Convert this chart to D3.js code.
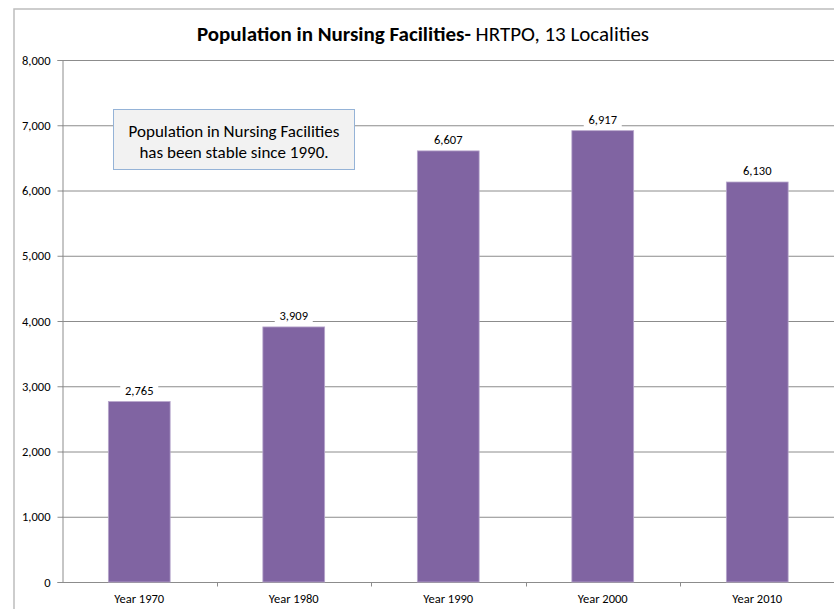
<!DOCTYPE html>
<html><head><meta charset="utf-8">
<script src="https://cdn.jsdelivr.net/npm/d3@7"></script>
<style>body{margin:0;background:#fff}svg{display:block}</style>
</head><body>
<script>
const categories = ["Year 1970","Year 1980","Year 1990","Year 2000","Year 2010"];
const values = [2765, 3909, 6607, 6917, 6130];
const yTicks = [0,1000,2000,3000,4000,5000,6000,7000,8000];
const titleBold = "Population in Nursing Facilities-";
const titleRest = " HRTPO, 13 Localities";
const noteLines = ["Population in Nursing Facilities","has been stable since 1990."];

(function(){
const W=834,H=609;
const svg=d3.select("body").append("svg").attr("width",W).attr("height",H);
const font="Carlito, 'Open Sans', 'Noto Sans', sans-serif";

// outer frame (cropped at right/bottom)
svg.append("rect").attr("x",14).attr("y",9).attr("width",W).attr("height",H)
  .attr("fill","#fff").attr("stroke","#bdbdbd").attr("stroke-width",1.5);

const pLeft=62, pRight=834.5, pTop=60, pBottom=582;
const x=d3.scaleBand().domain(categories).range([pLeft,pRight]).paddingInner(0.6).paddingOuter(0.3);
const y=d3.scaleLinear().domain([0,8000]).range([pBottom,pTop]);

// gridlines
svg.append("g").selectAll("line").data(yTicks.filter(d=>d>0)).join("line")
  .attr("x1",pLeft).attr("x2",W).attr("y1",d=>y(d)+0.5).attr("y2",d=>y(d)+0.5)
  .attr("stroke","#8c8c8c").attr("stroke-width",1);

// y axis
const ya=svg.append("g").attr("transform",`translate(${pLeft+0.5},0)`)
  .call(d3.axisLeft(y).tickValues(yTicks).tickSize(5).tickPadding(7).tickFormat(d3.format(",")));
ya.select(".domain").attr("stroke","#8c8c8c");
ya.selectAll(".tick line").attr("stroke","#8c8c8c");
ya.selectAll("text").attr("font-family",font).attr("font-size",12.5).attr("fill","#000");

// x axis
const xBand=d3.scaleLinear().domain([0,categories.length]).range([pLeft,pRight]);
const xa=svg.append("g").attr("transform",`translate(0,${pBottom+0.5})`);
xa.append("line").attr("x1",pLeft).attr("x2",W).attr("stroke","#8c8c8c");
xa.selectAll("line.t").data(d3.range(1,categories.length+1)).join("line").attr("class","t")
  .attr("x1",d=>Math.round(xBand(d))+0.5).attr("x2",d=>Math.round(xBand(d))+0.5).attr("y1",0).attr("y2",4)
  .attr("stroke","#8c8c8c");
xa.selectAll("text").data(categories).join("text")
  .attr("x",d=>x(d)+x.bandwidth()/2).attr("y",20).attr("text-anchor","middle")
  .attr("font-family",font).attr("font-size",12.5).attr("fill","#000").text(d=>d);

// bars
svg.append("g").selectAll("rect").data(values).join("rect")
  .attr("x",(d,i)=>x(categories[i])).attr("width",x.bandwidth())
  .attr("y",d=>y(d)).attr("height",d=>pBottom-y(d))
  .attr("fill","#8064a2").attr("stroke","#b7a6cc").attr("stroke-width",0.8);

// value labels with white background
const lg=svg.append("g").selectAll("g").data(values).join("g")
  .attr("transform",(d,i)=>`translate(${x(categories[i])+x.bandwidth()/2},${y(d)-7})`);
lg.append("rect").attr("x",-19).attr("y",-12).attr("width",38).attr("height",16).attr("fill","#fff");
lg.append("text").attr("text-anchor","middle").attr("font-family",font).attr("font-size",12.5)
  .attr("fill","#000").text(d=>d3.format(",")(d));

// title
const t=svg.append("text").attr("x",423).attr("y",41).attr("text-anchor","middle")
  .attr("font-family",font).attr("font-size",21).attr("fill","#000");
t.append("tspan").attr("font-weight","bold").text(titleBold);
t.append("tspan").text(titleRest);

// annotation box
svg.append("rect").attr("x",113.5).attr("y",109.5).attr("width",241).attr("height",60)
  .attr("fill","#f2f2f2").attr("stroke","#95b3d7").attr("stroke-width",1);
svg.append("g").selectAll("text").data(noteLines).join("text")
  .attr("x",234).attr("y",(d,i)=>137+i*21).attr("text-anchor","middle")
  .attr("font-family",font).attr("font-size",17).attr("fill","#000").text(d=>d);
})();
</script>
</body></html>
